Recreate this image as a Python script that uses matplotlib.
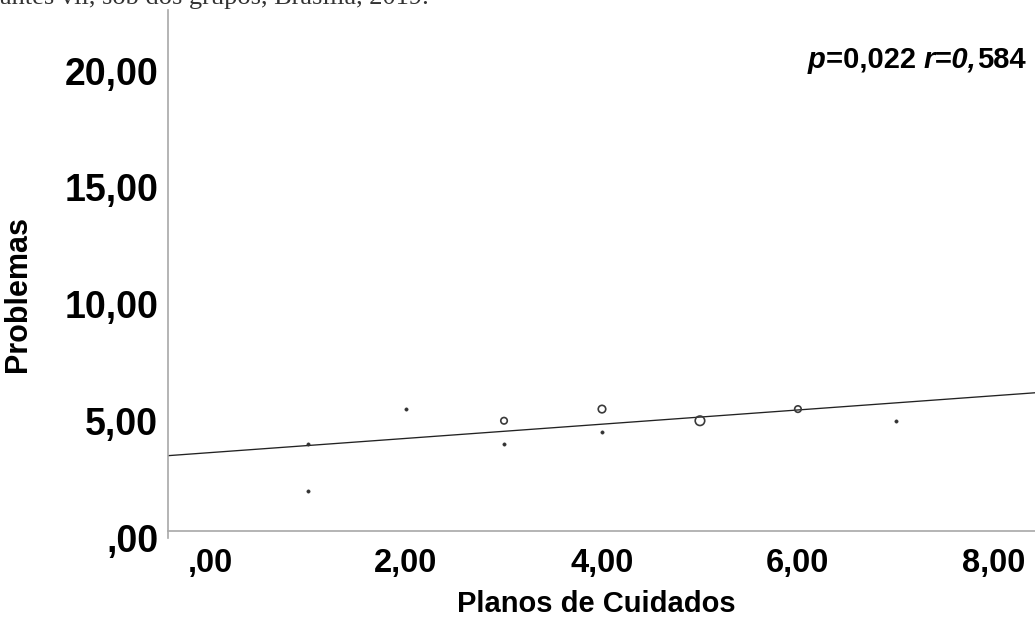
import numpy as np
import matplotlib
matplotlib.use("Agg")
import matplotlib.pyplot as plt

# ---- data ----
planos = [1, 1, 2, 3, 3, 4, 4, 5, 6, 7]
problemas = [4.0, 2.0, 5.5, 5.0, 4.0, 5.5, 4.5, 5.0, 5.5, 5.0]
contagem = [1, 1, 1, 2, 1, 3, 1, 4, 2, 1]

x_ticks = [0, 2, 4, 6, 8]
x_ticklabels = [",00", "2,00", "4,00", "6,00", "8,00"]
y_ticks = [0, 5, 10, 15, 20]
y_ticklabels = [",00", "5,00", "10,00", "15,00", "20,00"]

FONT = "Liberation Sans"
plt.rcParams["font.family"] = [FONT, "DejaVu Sans"]

fig = plt.figure(figsize=(10.35, 6.2), dpi=100)
ax = fig.add_axes([168 / 1035, (620 - 537.5) / 620, 1 - 168 / 1035, 527.7 / 620])

x = np.array(planos, dtype=float)
y = np.array(problemas, dtype=float)
w = np.array(contagem, dtype=float)

# marker sizes by count (diameter in px)
diam_px = {1: 3.2, 2: 6.5, 3: 7.5, 4: 9.5}
for xi, yi, ci in zip(x, y, contagem):
    d = diam_px[ci] * 0.72
    if ci == 1:
        ax.scatter([xi], [yi], s=d ** 2, facecolors="#333333", edgecolors="#333333",
                   linewidths=0.5, zorder=3)
    else:
        ax.scatter([xi], [yi], s=d ** 2, facecolors="none", edgecolors="#3a3a3a",
                   linewidths=1.2, zorder=3)

# weighted linear fit line
slope, intercept = np.polyfit(x, y, 1, w=np.sqrt(w))
xl = np.array([-0.43, 8.6])
ax.plot(xl, intercept + slope * xl, color="#222222", lw=0.95, zorder=2)

ax.set_xlim(-0.43, 8.42)
ax.set_ylim(0, 22.6)

for s in ["top", "right"]:
    ax.spines[s].set_visible(False)
for s in ["left", "bottom"]:
    ax.spines[s].set_color("#a8a8a8")
    ax.spines[s].set_linewidth(1.2)
ax.spines["bottom"].set_position(("data", 0.28))

ax.set_xticks(x_ticks)
ax.set_xticklabels(x_ticklabels, fontsize=23.5, fontweight="bold")
ax.set_yticks(y_ticks)
ax.set_yticklabels(y_ticklabels, fontsize=27, fontweight="bold")
ax.tick_params(axis="x", length=0, pad=12)
ax.tick_params(axis="y", length=0, pad=7)

ax.set_xlabel("Planos de Cuidados", fontsize=21, fontweight="bold")
ax.xaxis.set_label_coords(0.494, -0.0995)
ax.set_ylabel("Problemas", fontsize=22, fontweight="bold")
ax.yaxis.set_label_coords(-0.156, 0.461)

# annotation p / r
t1 = ax.text((808 - 168) / 867, (537.5 - 60) / 527.7, "p", transform=ax.transAxes,
             fontsize=21, fontweight="bold", fontstyle="italic", va="center", ha="left")
t2 = ax.annotate("=0,022 ", xy=(1, 0), xycoords=t1, va="bottom", ha="left",
                 fontsize=21, fontweight="bold")
t3 = ax.annotate("r=0,", xy=(1, 0), xycoords=t2, va="bottom", ha="left",
                 fontsize=21, fontweight="bold", fontstyle="italic")
ax.annotate("584", xy=(1, 0), xycoords=t3, va="bottom", ha="left",
            fontsize=21, fontweight="bold")

# clipped caption from the source document at the very top
fig.text(0.0, 1 - 4 / 620, "antes vii, sob dos grupos, Brasília, 2019.",
         fontsize=19, family=["Liberation Serif", "DejaVu Serif"], color="#333333",
         va="baseline", ha="left")

fig.savefig("out.png", dpi=100)
